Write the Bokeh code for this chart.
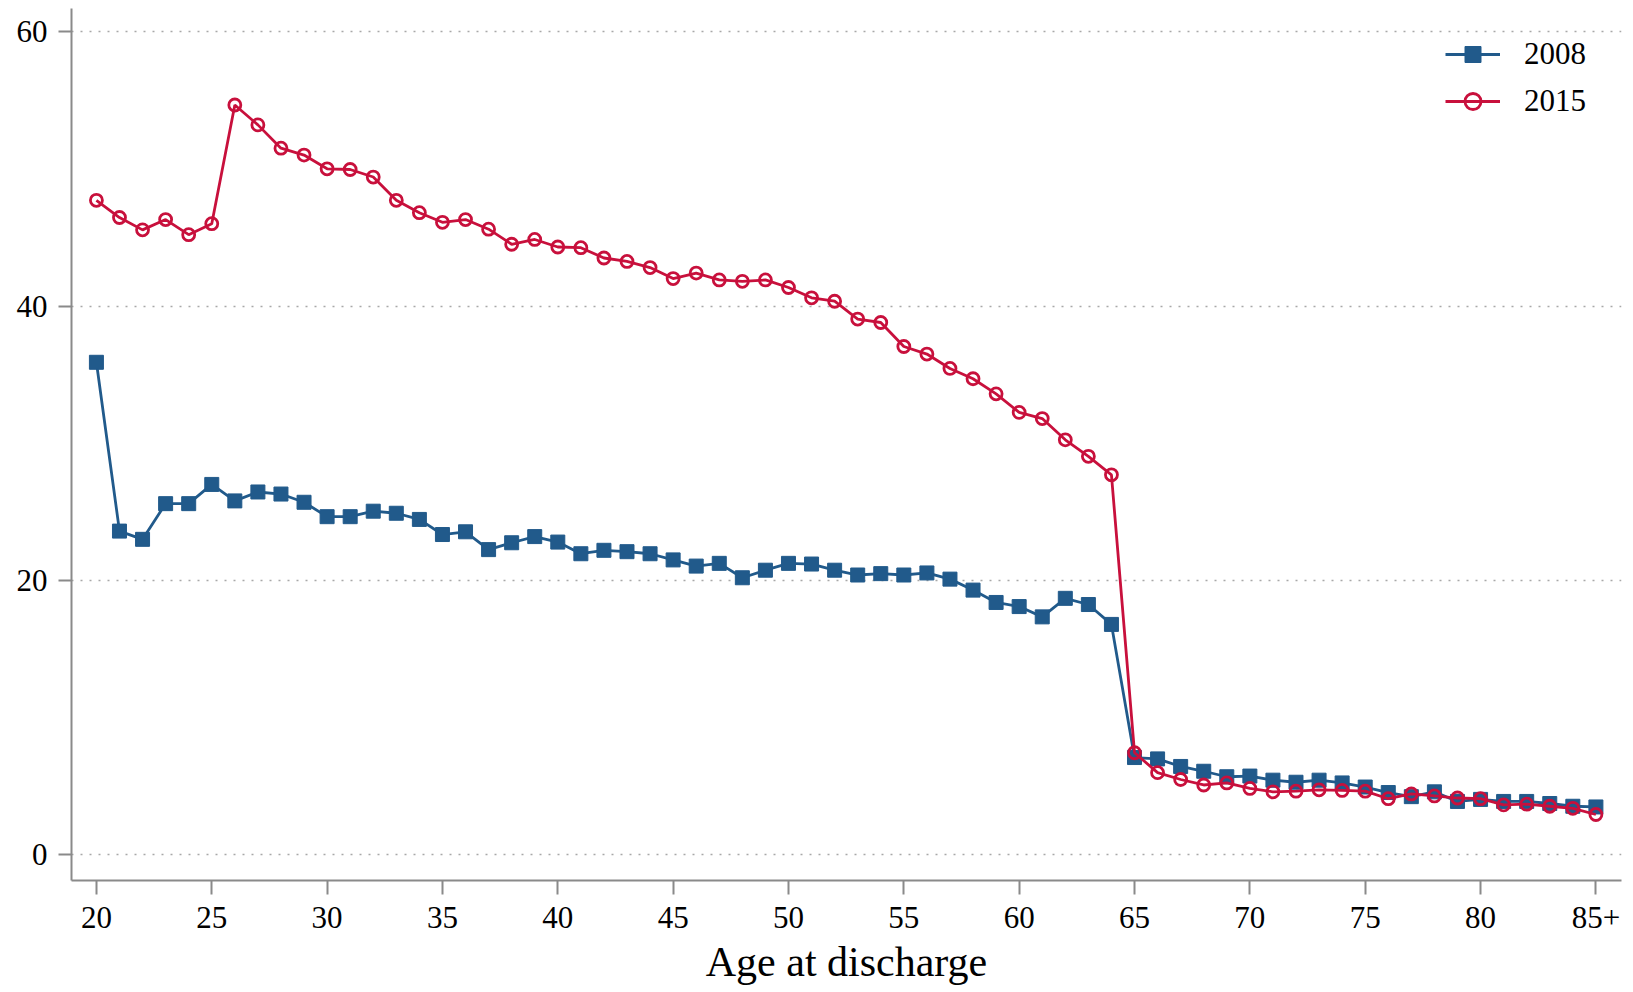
from bokeh.plotting import figure
from bokeh.models import Range1d, FixedTicker, Legend, LegendItem, Title
from bokeh.embed import file_html
from bokeh.resources import INLINE

ages = list(range(20, 86))
x_ticks = [20, 25, 30, 35, 40, 45, 50, 55, 60, 65, 70, 75, 80, 85]
x_tick_labels = {85: "85+"}
y_ticks = [0, 20, 40, 60]
x_title = "Age at discharge"

y2008 = [35.9, 23.6, 23.0, 25.6, 25.6, 27.0, 25.8, 26.45, 26.3, 25.7,
         24.65, 24.65, 25.05, 24.9, 24.45, 23.35, 23.55, 22.25, 22.75, 23.2,
         22.8, 21.95, 22.2, 22.1, 21.95, 21.5, 21.05, 21.25, 20.2, 20.75,
         21.25, 21.2, 20.75, 20.4, 20.5, 20.4, 20.55, 20.1, 19.3, 18.4,
         18.1, 17.35, 18.7, 18.25, 16.8, 7.1, 7.0, 6.45, 6.1, 5.7,
         5.75, 5.45, 5.3, 5.45, 5.25, 4.95, 4.55, 4.25, 4.6, 3.9,
         4.05, 3.9, 3.9, 3.75, 3.55, 3.5]

y2015 = [47.7, 46.45, 45.55, 46.3, 45.2, 46.0, 54.65, 53.2, 51.5, 51.0,
         50.0, 49.95, 49.4, 47.7, 46.8, 46.1, 46.3, 45.6, 44.5, 44.85,
         44.3, 44.25, 43.5, 43.25, 42.8, 42.0, 42.4, 41.9, 41.8, 41.9,
         41.35, 40.6, 40.35, 39.05, 38.8, 37.05, 36.5, 35.45, 34.7, 33.6,
         32.25, 31.8, 30.25, 29.05, 27.7, 7.45, 6.0, 5.5, 5.1, 5.25,
         4.85, 4.6, 4.65, 4.75, 4.7, 4.65, 4.1, 4.45, 4.3, 4.15,
         4.1, 3.65, 3.7, 3.55, 3.4, 2.95]

BLUE = "#215a8b"
RED = "#c8103c"
FONT = "Liberation Serif"
AXIS_GRAY = "#8a8a8a"

p = figure(width=1633, height=992, output_backend="svg", toolbar_location=None,
           x_range=Range1d(18.92, 86.11), y_range=Range1d(-1.86, 61.68),
           min_border_left=71, min_border_right=12, min_border_top=8,
           min_border_bottom=112)
p.outline_line_color = None
p.background_fill_color = "white"

l1 = p.line(ages, y2008, line_color=BLUE, line_width=2.8)
s1 = p.scatter(ages, y2008, marker="square", size=14, fill_color=BLUE, line_color=BLUE)
l2 = p.line(ages, y2015, line_color=RED, line_width=2.8)
s2 = p.scatter(ages, y2015, marker="circle", size=12, fill_color=None,
               line_color=RED, line_width=2.8)

# axes
p.xaxis.ticker = FixedTicker(ticks=x_ticks)
p.xaxis.major_label_overrides = x_tick_labels
p.yaxis.ticker = FixedTicker(ticks=y_ticks)
for ax in (p.xaxis, p.yaxis):
    ax.axis_line_color = AXIS_GRAY
    ax.axis_line_width = 2
    ax.major_tick_line_color = AXIS_GRAY
    ax.major_tick_line_width = 2
    ax.minor_tick_line_color = None
    ax.major_tick_in = 0
    ax.major_label_text_font = FONT
    ax.major_label_text_font_size = "31px"
    ax.major_label_text_color = "black"
p.xaxis.major_tick_out = 14
p.xaxis.major_label_standoff = 12
p.yaxis.major_tick_out = 13
p.yaxis.major_label_standoff = 11
p.yaxis.major_label_orientation = "horizontal"

# x-axis title as a title in the bottom panel
xt = Title(text=x_title, align="center", text_font=FONT, text_font_size="42px",
           text_font_style="normal", text_color="black", standoff=12)
p.add_layout(xt, "below")

p.xgrid.grid_line_color = None
p.ygrid.ticker = FixedTicker(ticks=y_ticks)
p.ygrid.grid_line_color = "#a8a8a8"
p.ygrid.grid_line_width = 1.5
p.ygrid.grid_line_dash = "2 7"

legend = Legend(items=[LegendItem(label="2008", renderers=[l1, s1]),
                       LegendItem(label="2015", renderers=[l2, s2])],
                location=(1374, 759), orientation="vertical")
legend.border_line_color = None
legend.background_fill_alpha = 0
legend.padding = 0
legend.spacing = 7
legend.glyph_width = 55
legend.glyph_height = 40
legend.label_height = 40
legend.label_standoff = 24
legend.label_text_font = FONT
legend.label_text_font_size = "31px"
legend.label_text_color = "black"
legend.margin = 0
p.add_layout(legend, "center")

open("out.html", "w").write(file_html(p, INLINE))
